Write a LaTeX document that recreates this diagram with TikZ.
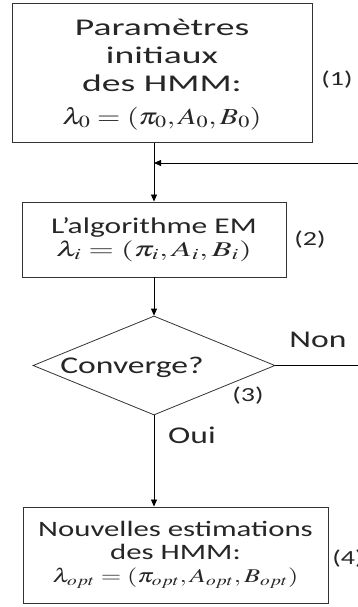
\documentclass[tikz,border=0pt]{standalone}
\usepackage{mathptmx}
\usepackage{fontspec}
\setmainfont{Carlito}[FakeStretch=1.4]
\usetikzlibrary{shapes.geometric,arrows.meta}

\newcommand{\widemath}[2][1.6]{\scalebox{#1}[1]{$#2$}}
\newcommand{\etire}[2]{\scalebox{#1}[1]{\begin{tabular}{@{}c@{}}#2\end{tabular}}}

\tikzset{
  blok/.style={draw=black!80, line width=0.9pt, align=center, inner sep=0pt, text=black!85},
  decision/.style={diamond, draw=black!80, line width=0.8pt, inner sep=0pt},
  fleche/.style={-{Triangle[length=7pt,width=6pt]}, line width=0.8pt},
  etiq/.style={font=\fontsize{20}{22}\selectfont, text=black!85},
  mot/.style={font=\fontsize{24}{26}\selectfont, text=black!85, anchor=base},
}

\begin{document}
\begin{tikzpicture}[x=1pt,y=-1pt]
  \useasboundingbox (0,0) rectangle (358,607);
  \node[blok, minimum width=300pt, minimum height=139pt, font=\fontsize{24}{28}\selectfont]
    (init) at (162,73) {\etire{1.12}{Paramètres\\initiaux\\des HMM:}\\[6pt]{\fontsize{23}{27}\selectfont\widemath[1.3]{\lambda_0=(\pi_0,A_0,B_0)}}};
  \node[blok, minimum width=264pt, minimum height=75pt, font=\fontsize{22.5}{23}\selectfont]
    (algo) at (154,239.5) {L’algorithme EM\\{\fontsize{21}{23}\selectfont\widemath[1.55]{\lambda_i=(\pi_i,A_i,B_i)}}};
  \node[decision, minimum width=242pt, minimum height=99pt] (conv) at (154,365.5) {};
  \node[mot] (txtconv) at (132,373) {Converge?};
  \node[blok, minimum width=305pt, minimum height=96pt, font=\fontsize{22}{23}\selectfont]
    (nouv) at (175.5,555) {Nouvelles estimations\\des HMM:\\{\fontsize{19.5}{23}\selectfont\widemath[1.35]{\lambda_{opt}=(\pi_{opt},A_{opt},B_{opt})}}};
  % numeros des etapes
  \node[etiq] (n1) at (337,79.5) {(1)};
  \node[etiq] (n2) at (310,240) {(2)};
  \node[etiq] (n3) at (248,396) {(3)};
  \node[etiq] (n4) at (348,559) {(4)};
  \node[mot] (non) at (318,347) {Non};
  \node[mot] (oui) at (192,443) {Oui};
  % fleches
  \coordinate (retour) at (154,163);
  \coordinate (coin) at (362,365.5);
  \draw[fleche] (init.south -| retour) -- (algo.north);
  \draw[fleche] (algo.south) -- (conv.north);
  \draw[fleche] (conv.south) -- (nouv.north -| conv.south);
  \draw[fleche] (conv.east) -- (coin) |- (retour);
\end{tikzpicture}
\end{document}
